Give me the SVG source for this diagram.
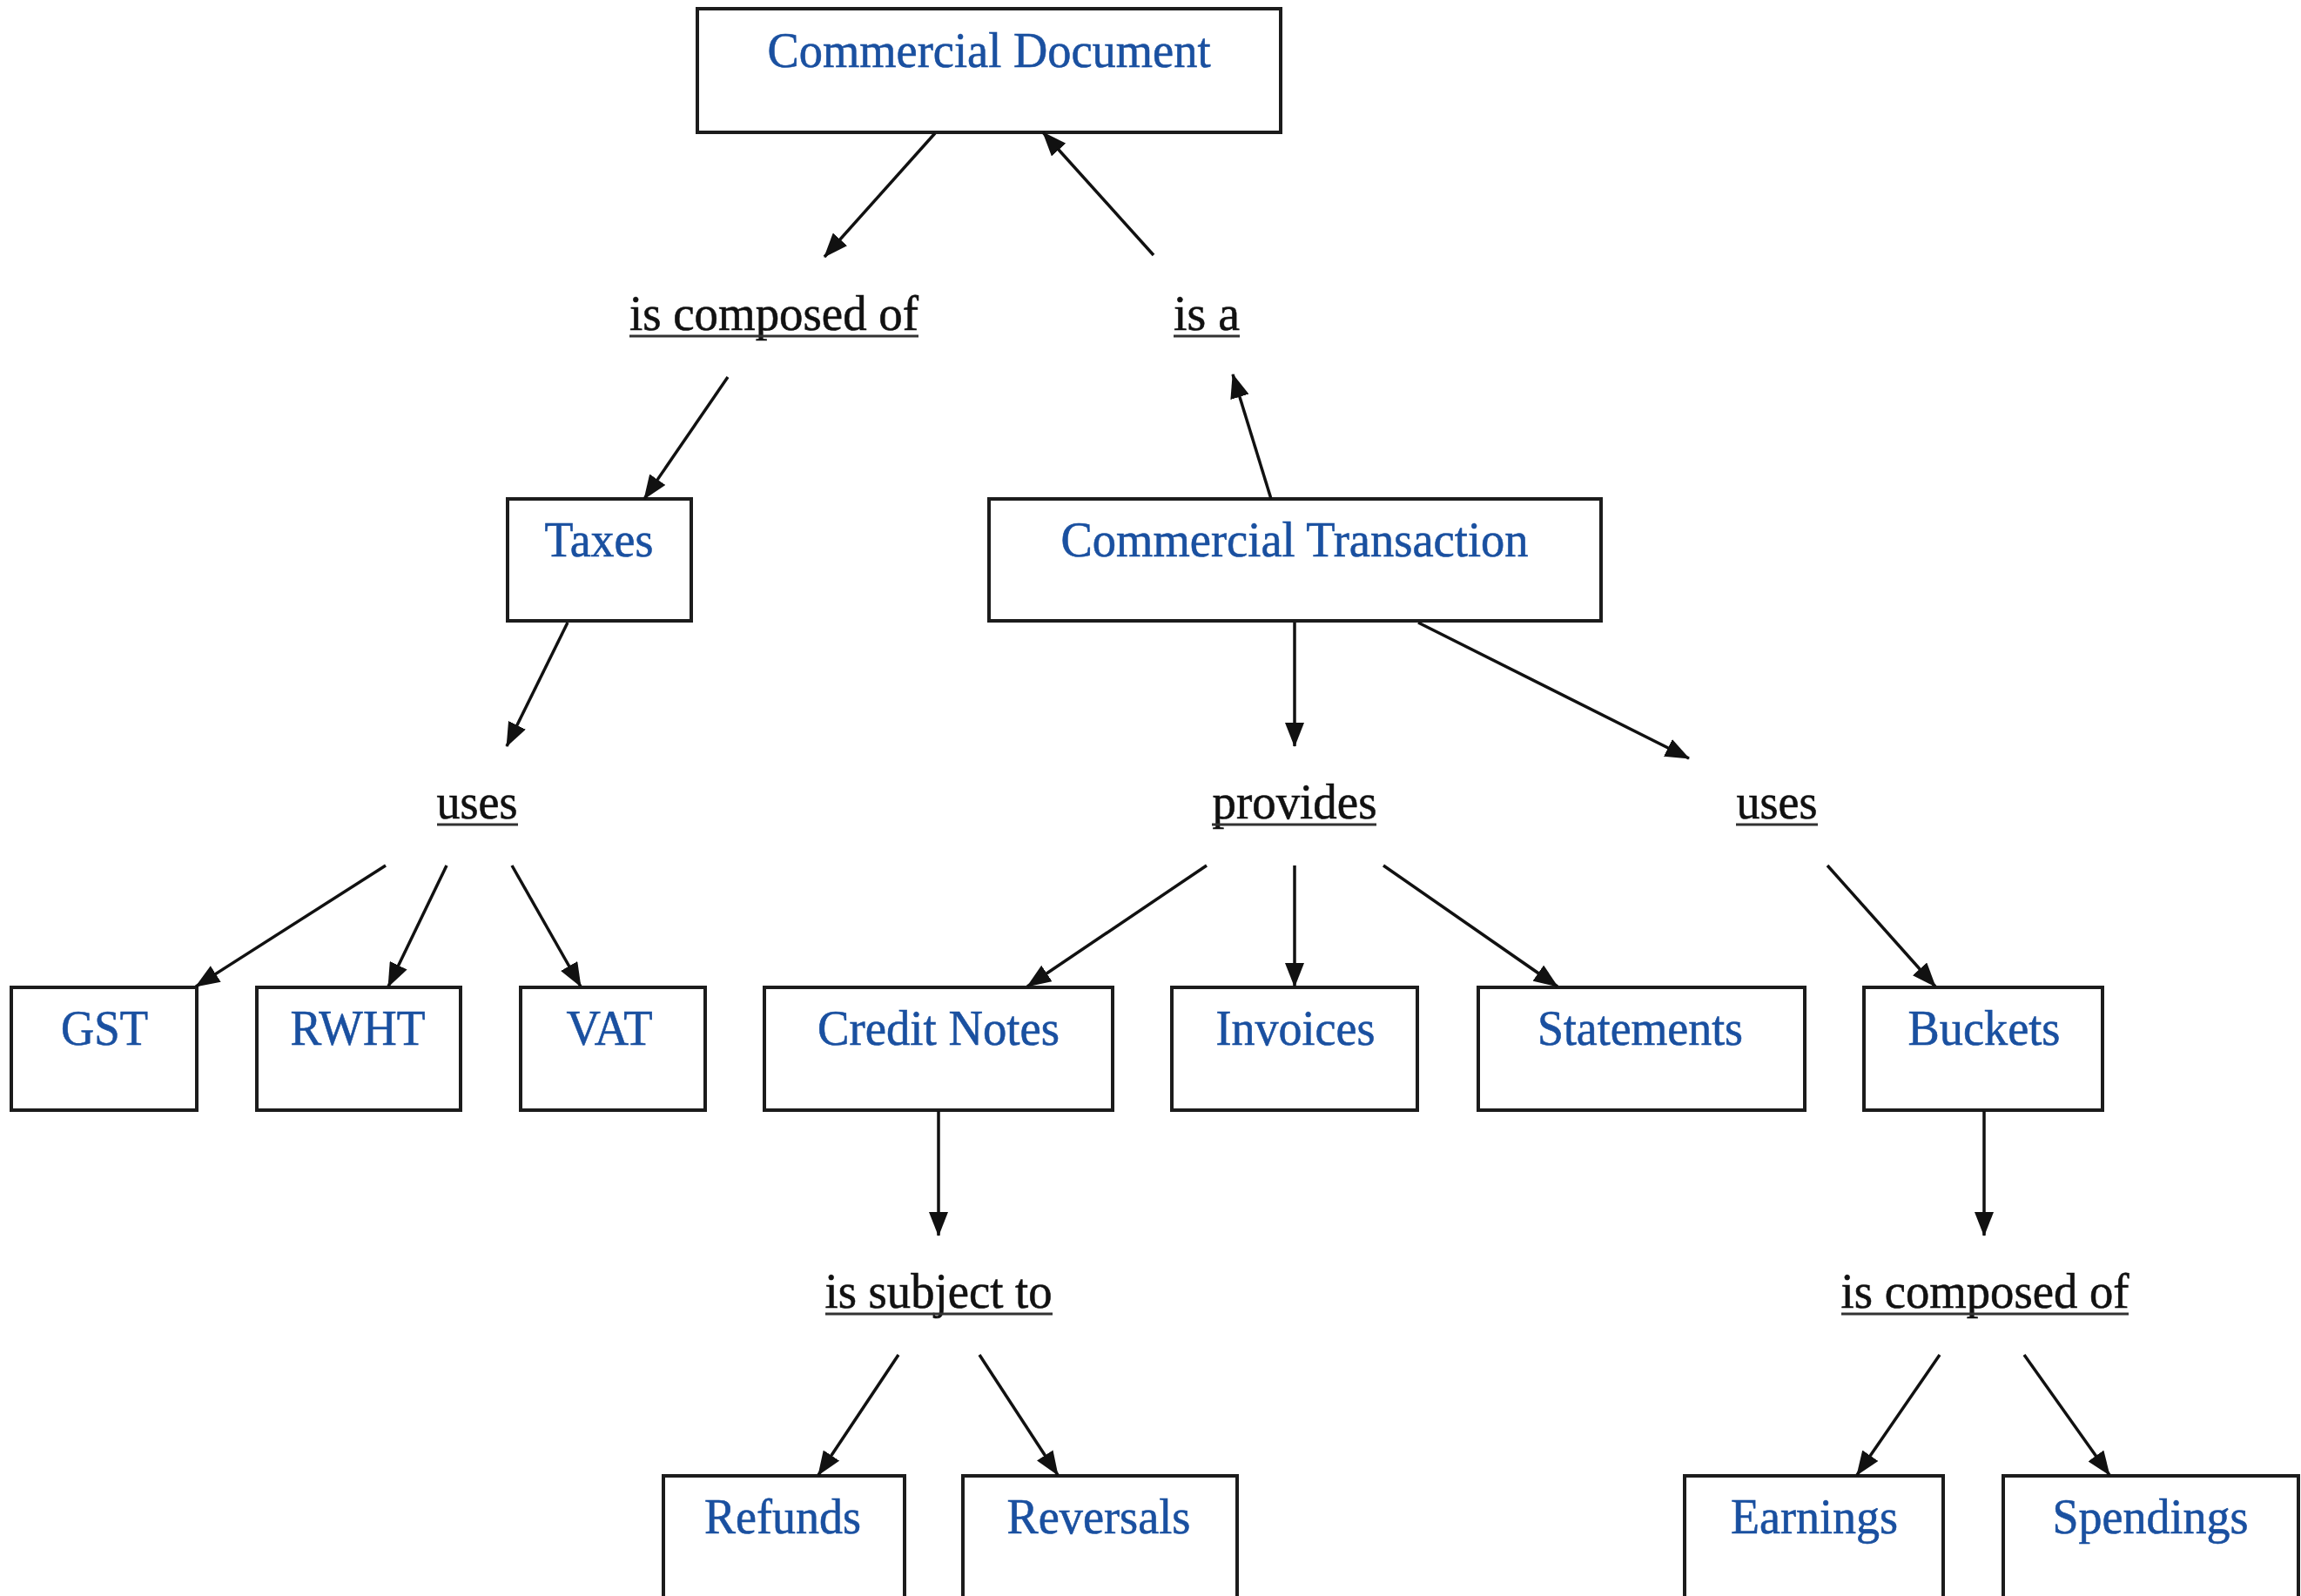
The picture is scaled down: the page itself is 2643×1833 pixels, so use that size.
<svg xmlns="http://www.w3.org/2000/svg" width="2643" height="1833" viewBox="0 0 2643 1833">
  <defs>
    <style>
      .box rect { fill: #ffffff; stroke: #1c1c1c; stroke-width: 4; }
      .box text { font-family: "Liberation Serif", "Times New Roman", serif; font-size: 58px; fill: #1a50a0; stroke: #1a50a0; stroke-width: 0.6; text-anchor: middle; }
      .rel text { font-family: "Liberation Serif", "Times New Roman", serif; font-size: 58px; fill: #111111; stroke: #111111; stroke-width: 0.6; text-anchor: middle; }
      .rel line { stroke: #333333; stroke-width: 3; }
      #connectors line { stroke: #111111; stroke-width: 3.5; marker-end: url(#arrow); }
    </style>
    <marker id="arrow" markerUnits="userSpaceOnUse" markerWidth="28" markerHeight="22" refX="27" refY="11" orient="auto">
      <path d="M0,0 L28,11 L0,22 z" fill="#111111"/>
    </marker>
  </defs>
  <rect width="2643" height="1833" fill="#ffffff"/>

  <!-- concept boxes -->
  <g id="commercial-document" class="box">
    <rect x="801" y="10" width="670" height="142"/>
    <text x="1136" y="77" textLength="509" lengthAdjust="spacingAndGlyphs">Commercial Document</text>
  </g>
  <g id="taxes" class="box">
    <rect x="583" y="573" width="211" height="140"/>
    <text x="688" y="639" textLength="125" lengthAdjust="spacingAndGlyphs">Taxes</text>
  </g>
  <g id="commercial-transaction" class="box">
    <rect x="1136" y="573" width="703" height="140"/>
    <text x="1487" y="639" textLength="537" lengthAdjust="spacingAndGlyphs">Commercial Transaction</text>
  </g>
  <g id="gst" class="box">
    <rect x="13" y="1134" width="213" height="141"/>
    <text x="120" y="1200" textLength="100" lengthAdjust="spacingAndGlyphs">GST</text>
  </g>
  <g id="rwht" class="box">
    <rect x="295" y="1134" width="234" height="141"/>
    <text x="411" y="1200" textLength="155" lengthAdjust="spacingAndGlyphs">RWHT</text>
  </g>
  <g id="vat" class="box">
    <rect x="598" y="1134" width="212" height="141"/>
    <text x="700" y="1200" textLength="99" lengthAdjust="spacingAndGlyphs">VAT</text>
  </g>
  <g id="credit-notes" class="box">
    <rect x="878" y="1134" width="400" height="141"/>
    <text x="1078" y="1200" textLength="278" lengthAdjust="spacingAndGlyphs">Credit Notes</text>
  </g>
  <g id="invoices" class="box">
    <rect x="1346" y="1134" width="282" height="141"/>
    <text x="1488" y="1200" textLength="183" lengthAdjust="spacingAndGlyphs">Invoices</text>
  </g>
  <g id="statements" class="box">
    <rect x="1698" y="1134" width="375" height="141"/>
    <text x="1884" y="1200" textLength="236" lengthAdjust="spacingAndGlyphs">Statements</text>
  </g>
  <g id="buckets" class="box">
    <rect x="2141" y="1134" width="274" height="141"/>
    <text x="2279" y="1200" textLength="175" lengthAdjust="spacingAndGlyphs">Buckets</text>
  </g>
  <g id="refunds" class="box">
    <rect x="762" y="1695" width="277" height="145"/>
    <text x="899" y="1761" textLength="180" lengthAdjust="spacingAndGlyphs">Refunds</text>
  </g>
  <g id="reversals" class="box">
    <rect x="1106" y="1695" width="315" height="145"/>
    <text x="1262" y="1761" textLength="211" lengthAdjust="spacingAndGlyphs">Reversals</text>
  </g>
  <g id="earnings" class="box">
    <rect x="1935" y="1695" width="297" height="145"/>
    <text x="2084" y="1761" textLength="192" lengthAdjust="spacingAndGlyphs">Earnings</text>
  </g>
  <g id="spendings" class="box">
    <rect x="2301" y="1695" width="339" height="145"/>
    <text x="2470" y="1761" textLength="225" lengthAdjust="spacingAndGlyphs">Spendings</text>
  </g>

  <!-- relation labels (underlined) -->
  <g id="rel-is-composed-of-top" class="rel">
    <text x="889" y="379" textLength="332" lengthAdjust="spacingAndGlyphs">is composed of</text>
    <line x1="723" y1="386" x2="1055" y2="386"/>
  </g>
  <g id="rel-is-a" class="rel">
    <text x="1386" y="379" textLength="76" lengthAdjust="spacingAndGlyphs">is a</text>
    <line x1="1348" y1="386" x2="1424" y2="386"/>
  </g>
  <g id="rel-uses-taxes" class="rel">
    <text x="548" y="940" textLength="93" lengthAdjust="spacingAndGlyphs">uses</text>
    <line x1="502" y1="947" x2="595" y2="947"/>
  </g>
  <g id="rel-provides" class="rel">
    <text x="1487" y="940" textLength="189" lengthAdjust="spacingAndGlyphs">provides</text>
    <line x1="1392" y1="947" x2="1581" y2="947"/>
  </g>
  <g id="rel-uses-transaction" class="rel">
    <text x="2041" y="940" textLength="93" lengthAdjust="spacingAndGlyphs">uses</text>
    <line x1="1994" y1="947" x2="2088" y2="947"/>
  </g>
  <g id="rel-is-subject-to" class="rel">
    <text x="1078" y="1502" textLength="261" lengthAdjust="spacingAndGlyphs">is subject to</text>
    <line x1="948" y1="1509" x2="1209" y2="1509"/>
  </g>
  <g id="rel-is-composed-of-bottom" class="rel">
    <text x="2280" y="1502" textLength="331" lengthAdjust="spacingAndGlyphs">is composed of</text>
    <line x1="2115" y1="1509" x2="2445" y2="1509"/>
  </g>

  <!-- connectors -->
  <g id="connectors">
    <line x1="1074" y1="153" x2="947" y2="295"/>
    <line x1="1325" y1="293" x2="1198" y2="152"/>
    <line x1="836" y1="433" x2="740" y2="573"/>
    <line x1="1460" y1="573" x2="1416" y2="430"/>
    <line x1="652" y1="715" x2="582" y2="857"/>
    <line x1="1487" y1="715" x2="1487" y2="857"/>
    <line x1="1629" y1="715" x2="1940" y2="871"/>
    <line x1="443" y1="994" x2="225" y2="1133"/>
    <line x1="513" y1="994" x2="446" y2="1133"/>
    <line x1="588" y1="994" x2="667" y2="1133"/>
    <line x1="1386" y1="994" x2="1180" y2="1133"/>
    <line x1="1487" y1="994" x2="1487" y2="1133"/>
    <line x1="1589" y1="994" x2="1789" y2="1133"/>
    <line x1="2099" y1="994" x2="2223" y2="1133"/>
    <line x1="1078" y1="1276" x2="1078" y2="1419"/>
    <line x1="2279" y1="1276" x2="2279" y2="1419"/>
    <line x1="1032" y1="1556" x2="940" y2="1694"/>
    <line x1="1125" y1="1556" x2="1215" y2="1694"/>
    <line x1="2228" y1="1556" x2="2133" y2="1694"/>
    <line x1="2325" y1="1556" x2="2423" y2="1694"/>
  </g>
</svg>
